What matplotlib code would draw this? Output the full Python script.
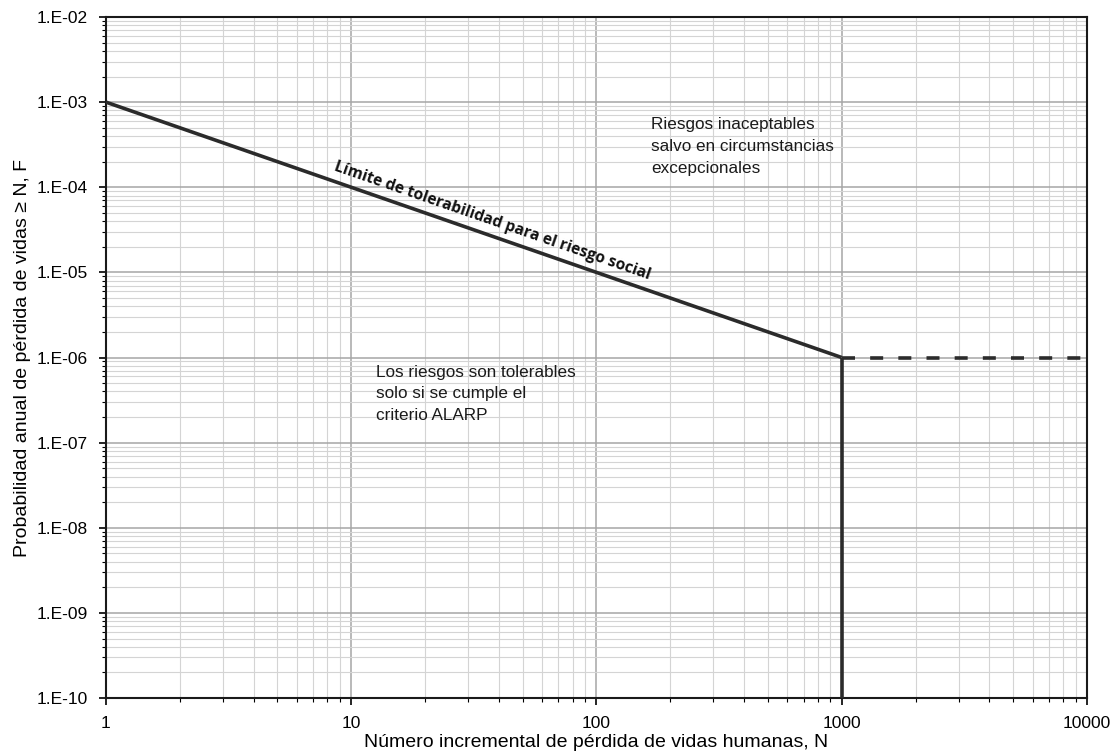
import matplotlib
matplotlib.use('Agg')
import matplotlib.pyplot as plt
from matplotlib.ticker import LogLocator, FixedLocator, NullFormatter

# tolerability limit (F-N curve)
LIMIT_N = [1, 1000]
LIMIT_F = [1e-3, 1e-6]
CUTOFF_N = [1000, 1000]
CUTOFF_F = [1e-6, 1e-10]
EXT_N = [1000, 10000]
EXT_F = [1e-6, 1e-6]

X_TICKS = [1, 10, 100, 1000, 10000]
X_LABELS = ['1', '10', '100', '1000', '10000']
Y_TICKS = [1e-10, 1e-9, 1e-8, 1e-7, 1e-6, 1e-5, 1e-4, 1e-3, 1e-2]
Y_LABELS = ['1.E-10', '1.E-09', '1.E-08', '1.E-07', '1.E-06',
            '1.E-05', '1.E-04', '1.E-03', '1.E-02']

SANS = ['Liberation Sans', 'DejaVu Sans']
LINE_C = '#2b2b2b'

fig = plt.figure(figsize=(11.2, 7.56), dpi=100)
ax = fig.add_axes([0.0946, 0.0767, 0.8759, 0.9008])
ax.set_xscale('log')
ax.set_yscale('log')
ax.set_xlim(1, 10000)
ax.set_ylim(1e-10, 1e-2)

ax.xaxis.set_major_locator(FixedLocator(X_TICKS))
ax.yaxis.set_major_locator(FixedLocator(Y_TICKS))
ax.set_xticklabels(X_LABELS, family=SANS, fontsize=12.5)
ax.set_yticklabels(Y_LABELS, family=SANS, fontsize=12.5)
ax.xaxis.set_minor_locator(LogLocator(base=10, subs=range(2, 10), numticks=20))
ax.yaxis.set_minor_locator(LogLocator(base=10, subs=range(2, 10), numticks=20))
ax.xaxis.set_minor_formatter(NullFormatter())
ax.yaxis.set_minor_formatter(NullFormatter())
ax.tick_params(which='major', direction='out', length=5, width=1.2, pad=8)
ax.tick_params(which='minor', direction='out', length=3, width=0.8)

ax.grid(which='major', color='#a6a6a6', linewidth=1.1)
ax.grid(which='minor', color='#d4d4d4', linewidth=0.8)
ax.set_axisbelow(True)
for sp in ax.spines.values():
    sp.set_linewidth(1.5)
    sp.set_color('#1a1a1a')

ax.plot(LIMIT_N, LIMIT_F, color=LINE_C, linewidth=2.6, solid_capstyle='butt', zorder=3)
ax.plot(CUTOFF_N, CUTOFF_F, color=LINE_C, linewidth=2.6, solid_capstyle='butt', zorder=3)
ax.plot(EXT_N, EXT_F, color=LINE_C, linewidth=2.6, linestyle=(0, (3.6, 4.2)),
        dash_capstyle='butt', zorder=3, clip_on=False)

ax.text(37.5, 4.0e-5, 'Límite de tolerabilidad para el riesgo social',
        rotation=-19.1, rotation_mode='anchor', ha='center', va='center',
        fontsize=11.2, fontweight='bold', family=['Open Sans', 'DejaVu Sans'],
        color='#111111')
ax.text(167, 6.6e-4, 'Riesgos inaceptables\nsalvo en circumstancias\nexcepcionales',
        ha='left', va='top', fontsize=12.3, family=SANS, linespacing=1.55,
        color='#1a1a1a')
ax.text(12.6, 8.2e-7, 'Los riesgos son tolerables\nsolo si se cumple el\ncriterio ALARP',
        ha='left', va='top', fontsize=12.3, family=SANS, linespacing=1.55,
        color='#1a1a1a')

ax.set_xlabel('Número incremental de pérdida de vidas humanas, N',
              family=SANS, fontsize=14, labelpad=2)
ax.set_ylabel('Probabilidad anual de pérdida de vidas ≥ N, F',
              family=SANS, fontsize=14, labelpad=4)

fig.savefig('out.png', dpi=100)
